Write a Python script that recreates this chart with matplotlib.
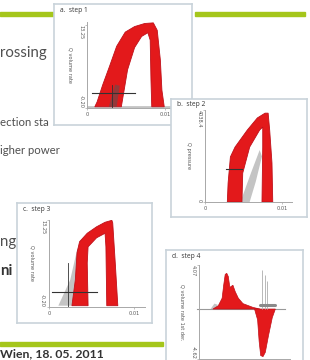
"""
Slide fragment: four small panels (steps 1-4) of volume-rate / pressure curves.
"""

import matplotlib
matplotlib.use("Agg")
import matplotlib.pyplot as plt
from matplotlib.patches import Rectangle
import numpy as np

W, H = 310, 360

# ---- panel a: step 1 (volume rate) ----
a_outer_x = [0.0010, 0.0013, 0.0020, 0.0029, 0.0038, 0.0049, 0.0061, 0.0074, 0.0085, 0.0090, 0.0094, 0.0096, 0.0099]
a_outer_y = [0.0, 0.8, 3.5, 6.6, 9.8, 12.1, 13.0, 13.5, 13.6, 12.4, 7.6, 2.7, 0.0]
a_inner_x = [0.0044, 0.0052, 0.0061, 0.0070, 0.0078, 0.0081, 0.0082, 0.0083]
a_inner_y = [0.0, 6.0, 9.6, 11.4, 12.0, 10.8, 4.3, 0.0]
a_gray_x = [0.0028, 0.0036, 0.0042, 0.0038]
a_gray_y = [0.0, 3.6, 3.4, 0.0]
a_cross_h = ([0.0006, 0.0062], [2.2, 2.2])
a_cross_v = ([0.0032, 0.0032], [3.6, -0.2])

# ---- panel b: step 2 (pressure) ----
b_outer_x = [0.0029, 0.0030, 0.0033, 0.0039, 0.0055, 0.0068, 0.0078, 0.0082, 0.0084, 0.0087, 0.0088]
b_outer_y = [0, 830, 1980, 2410, 3160, 3690, 3900, 3900, 3160, 1710, 0]
b_inner_x = [0.0048, 0.0049, 0.0058, 0.0071, 0.0075, 0.0075, 0.0074]
b_inner_y = [0, 1270, 2410, 3160, 3290, 2410, 0]
b_gray_x = [0.0046, 0.0060, 0.0071, 0.0074, 0.0066, 0.0058]
b_gray_y = [0, 1300, 2280, 2000, 900, 0]
b_cross_h = ([0.0027, 0.0048], [1450, 1450])

# ---- panel c: step 3 (volume rate) ----
c_outer_x = [0.0027, 0.0028, 0.0031, 0.0033, 0.0036, 0.0045, 0.0056, 0.0066, 0.0074, 0.0075, 0.0078, 0.0081]
c_outer_y = [0.0, 1.0, 4.0, 8.2, 9.9, 11.2, 12.2, 12.9, 13.2, 12.8, 6.6, 0.0]
c_inner_x = [0.0046, 0.0045, 0.0046, 0.0056, 0.0066, 0.0067, 0.0068]
c_inner_y = [0.0, 6.6, 9.1, 10.5, 11.2, 9.1, 0.0]
c_gray_x = [0.0011, 0.0025, 0.0033, 0.0036, 0.0031, 0.0033]
c_gray_y = [0.0, 4.0, 8.6, 9.5, 4.0, 0.0]
c_cross_h = ([0.00035, 0.0056], [2.1, 2.1])
c_cross_v = ([0.0022, 0.0022], [6.6, -0.2])

# ---- panel d: step 4 (volume rate 1st derivative) ----
d_pos_x = [0.0018, 0.0025, 0.0030, 0.0032, 0.0034, 0.0036, 0.0038, 0.0040, 0.0044, 0.0047, 0.0051, 0.0057, 0.0070, 0.0079]
d_pos_y = [0.0, 0.3, 1.0, 2.2, 3.2, 3.3, 3.0, 2.0, 2.2, 1.6, 1.0, 0.5, 0.15, 0.0]
d_neg_x = [0.0072, 0.0076, 0.0078, 0.0080, 0.0083, 0.0086, 0.0090, 0.0095, 0.0099]
d_neg_y = [0.0, -1.0, -3.0, -4.3, -4.4, -4.0, -2.5, -0.8, 0.0]
d_gray_x = [0.0015, 0.0020, 0.0024, 0.0025]
d_gray_y = [0.0, 0.5, 0.4, 0.0]
d_spike_x = [0.0082, 0.0085, 0.0088]
d_spike_top = [3.6, 3.1, 2.6]
d_bar = ([0.0079, 0.0099], [0.4, 0.4])

RED = "#e3191b"
RED_DARK = "#c0101a"
GRAY = "#c4c4c4"
BOX = "#c9d3da"
GREEN = "#a5c61b"
TXT = "#505050"


def rect(l, t, r, b):
    return [l / W, 1 - b / H, (r - l) / W, (b - t) / H]


def panel_box(fig, l, t, r, b, title):
    bx = fig.add_axes(rect(l, t, r, b))
    bx.set_xticks([])
    bx.set_yticks([])
    for s in bx.spines.values():
        s.set_color(BOX)
        s.set_linewidth(1.2)
    bx.set_facecolor("white")
    bx.text(6 / (r - l), 1 - 6 / (b - t), title, transform=bx.transAxes,
            fontsize=4.8, color="#333333", ha="left", va="center", family="Open Sans")
    return bx


def data_axes(fig, l, t, r, b, xlim, ylim, yticks, ylabels, ylabel, xlabels=("0", "0.01")):
    ax = fig.add_axes(rect(l, t, r, b))
    ax.patch.set_alpha(0)
    ax.set_xlim(*xlim)
    ax.set_ylim(*ylim)
    for s in ["top", "right"]:
        ax.spines[s].set_visible(False)
    for s in ["left", "bottom"]:
        ax.spines[s].set_color("#a8a8a8")
        ax.spines[s].set_linewidth(0.7)
    ax.set_xticks([0, 0.01], list(xlabels))
    ax.set_yticks(yticks, ylabels)
    ax.tick_params(length=1.2, width=0.5, color="#a8a8a8", labelsize=3.6,
                   labelcolor="#555555", pad=1.5)
    labs = ax.get_yticklabels()
    for lab, va in zip(labs, ["bottom", "top"]):
        lab.set_rotation(270)
        lab.set_verticalalignment(va)
    ax.annotate(ylabel, xy=(0, 0.5), xycoords="axes fraction", xytext=(-12, 0),
                textcoords="offset points", rotation=270, ha="center", va="center",
                fontsize=3.6, color="#555555")
    return ax


def band(ax, ox, oy, ix, iy):
    px = np.concatenate([ox, ix[::-1]])
    py = np.concatenate([oy, iy[::-1]])
    ax.fill(px, py, color=RED, lw=0.6, ec=RED_DARK, zorder=3)


fig = plt.figure(figsize=(W / 100, H / 100), dpi=100)
fig.patch.set_facecolor("white")

# slide text behind the panels
sans = ["Lato", "DejaVu Sans"]
fig.text(0 / W, 1 - 53 / H, "rossing", fontsize=10.8, color=TXT, family=sans, va="center", zorder=-1)
fig.text(0 / W, 1 - 123 / H, "ection sta", fontsize=8.2, color=TXT, family=sans, va="center", zorder=-1)
fig.text(0 / W, 1 - 150 / H, "igher power", fontsize=8.2, color=TXT, family=sans, va="center", zorder=-1)
fig.text(0 / W, 1 - 242 / H, "ng", fontsize=10.8, color=TXT, family=sans, va="center", zorder=-1)
fig.text(0 / W, 1 - 271 / H, "ni", fontsize=10.8, color="#333333", family=sans, weight="bold",
         va="center", zorder=-1)
fig.text(0 / W, 1 - 357.5 / H, "Wien, 18. 05. 2011", fontsize=8.8, color="#333333", family=sans,
         weight="bold", va="baseline", zorder=-1)

# green rules
for (x0, x1, y) in [(0, 53, 14), (195, 305, 14), (0, 163, 344)]:
    fig.add_artist(Rectangle((x0 / W, 1 - (y + 2) / H), (x1 - x0) / W, 4 / H,
                             transform=fig.transFigure, color=GREEN, zorder=-1))

# panel a
panel_box(fig, 54, 4, 192, 125, "a.  step 1")
ax = data_axes(fig, 87, 22, 185, 108, (0, 0.01256), (-0.2, 13.74), [-0.2, 13.25],
               ["-0.20", "13.25"], "Q volume rate")
ax.plot([0, 0.0125], [0, 0], color=GRAY, lw=2, zorder=1)
band(ax, np.array(a_outer_x), np.array(a_outer_y), np.array(a_inner_x), np.array(a_inner_y))
ax.fill(a_gray_x, a_gray_y, color="#555555", alpha=0.55, lw=0, zorder=4)
ax.plot(*a_cross_h, color="#333333", lw=0.8, zorder=5)
ax.plot(*a_cross_v, color="#333333", lw=0.6, zorder=5)

# panel b
panel_box(fig, 171, 99, 307, 217, "b.  step 2")
ax = data_axes(fig, 205, 110, 292, 202, (0, 0.0113), (0, 4038.4), [0, 4038.4],
               ["0", "4038.4"], "Q pressure")
ax.fill(b_gray_x, b_gray_y, color=GRAY, lw=0, zorder=2)
band(ax, np.array(b_outer_x), np.array(b_outer_y), np.array(b_inner_x), np.array(b_inner_y))
ax.plot(*b_cross_h, color="#333333", lw=0.8, zorder=5)

# panel c
panel_box(fig, 17, 203, 152, 323, "c.  step 3")
ax = data_axes(fig, 49, 220, 145, 307, (0, 0.0113), (-0.2, 13.25), [-0.2, 13.25],
               ["-0.20", "13.25"], "Q volume rate")
ax.fill(c_gray_x, c_gray_y, color=GRAY, lw=0, zorder=2)
band(ax, np.array(c_outer_x), np.array(c_outer_y), np.array(c_inner_x), np.array(c_inner_y))
ax.plot(*c_cross_h, color="#333333", lw=0.8, zorder=5)
ax.plot(*c_cross_v, color="#333333", lw=0.6, zorder=5)

# panel d (its x labels fall below the slide crop, as in the original)
panel_box(fig, 166, 250, 303, 375, "d.  step 4")
ax = data_axes(fig, 199, 265, 290, 359, (0, 0.0118), (-4.62, 4.07), [-4.62, 4.07],
               ["-4.62", "4.07"], "Q volume rate 1st der.", xlabels=("", ""))
ax.plot([-0.0003, 0.0112], [0, 0], color="#999999", lw=0.8, zorder=1, clip_on=False)
ax.fill(d_gray_x, d_gray_y, color=GRAY, lw=0, zorder=2)
ax.fill(d_pos_x, d_pos_y, color=RED, ec=RED_DARK, lw=0.5, zorder=3)
ax.fill(d_neg_x, d_neg_y, color=RED, ec=RED_DARK, lw=0.5, zorder=3)
ax.vlines(d_spike_x, 0, d_spike_top, color="#b8b8b8", lw=0.7, zorder=4)
ax.plot(*d_bar, color="#8a8a8a", lw=2.2, solid_capstyle="round", zorder=5)

fig.savefig("out.png", dpi=100)
